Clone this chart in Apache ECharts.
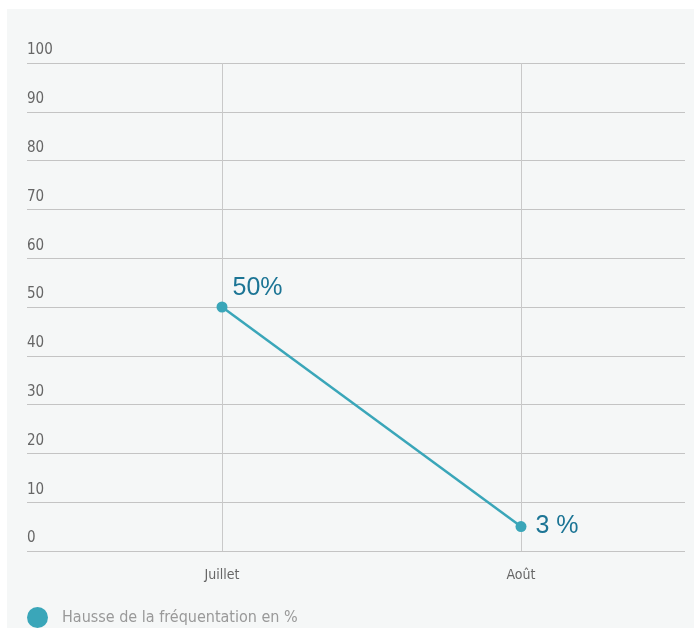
<!DOCTYPE html>
<html>
<head>
<meta charset="utf-8">
<script src="https://cdn.jsdelivr.net/npm/echarts@6/dist/echarts.min.js"></script>
<style>
html,body{margin:0;padding:0;background:#fff;}
#chart{width:694px;height:628px;}
</style>
</head>
<body>
<div id="chart"></div>
<script>
const categories = ['Juillet', 'Août'];
const values = [50, 5];
const pointLabels = ['50%', '3 %'];
const seriesName = 'Hausse de la fréquentation en %';
const yMin = 0, yMax = 100, yStep = 10;

const condensed = "'Liberation Sans Narrow', 'DejaVu Sans Condensed', 'Roboto Condensed', sans-serif";
const teal = '#3aa6b9';
const labelBlue = '#1c7595';

const chart = echarts.init(document.getElementById('chart'));
const labelStyles = [
  { offset: [0, -19], distance: 5 },
  { offset: [0, 0], distance: 9 }
];

chart.setOption({
  animation: false,
  backgroundColor: '#ffffff',
  graphic: [{
    type: 'rect', left: 7, top: 9, z: -10,
    shape: { width: 700, height: 640 },
    style: { fill: '#f5f7f7' }
  }],
  grid: [
    { left: 27, right: 9, top: 63, bottom: 77 },
    { left: 222, right: 173, top: 63, bottom: 77 }
  ],
  xAxis: [
    { gridIndex: 0, type: 'value', min: 0, max: 1, show: false },
    {
      gridIndex: 1, type: 'category', data: categories, boundaryGap: false,
      axisLine: { show: false }, axisTick: { show: false },
      axisLabel: { margin: 17, fontFamily: condensed, fontSize: 14, color: '#666' },
      splitLine: { show: true, lineStyle: { color: '#c9c9c9', width: 1 } }
    }
  ],
  yAxis: [
    {
      gridIndex: 0, type: 'value', min: yMin, max: yMax, interval: yStep,
      axisLine: { show: false }, axisTick: { show: false },
      axisLabel: {
        inside: true, margin: 0, verticalAlign: 'bottom', padding: [0, 0, 5, 0],
        fontFamily: condensed, fontSize: 15, color: '#666'
      },
      splitLine: { lineStyle: { color: '#c4c4c4', width: 1 } }
    },
    { gridIndex: 1, type: 'value', min: yMin, max: yMax, show: false, splitLine: { show: false } }
  ],
  legend: {
    data: [seriesName], left: 22, top: 602, icon: 'circle',
    itemWidth: 21, itemHeight: 21, itemGap: 10,
    textStyle: { fontFamily: condensed, fontSize: 16, color: '#999', padding: [0, 0, 0, 9] }
  },
  series: [{
    name: seriesName, type: 'line', xAxisIndex: 1, yAxisIndex: 1,
    data: values.map((v, i) => ({
      value: v,
      label: Object.assign({ formatter: pointLabels[i] }, labelStyles[i])
    })),
    symbol: 'circle', symbolSize: 11,
    itemStyle: { color: teal },
    lineStyle: { color: teal, width: 2.5 },
    label: {
      show: true, position: 'right',
      fontFamily: "'Liberation Sans', Arial, sans-serif", fontSize: 25, color: labelBlue
    }
  }]
});
</script>
</body>
</html>
